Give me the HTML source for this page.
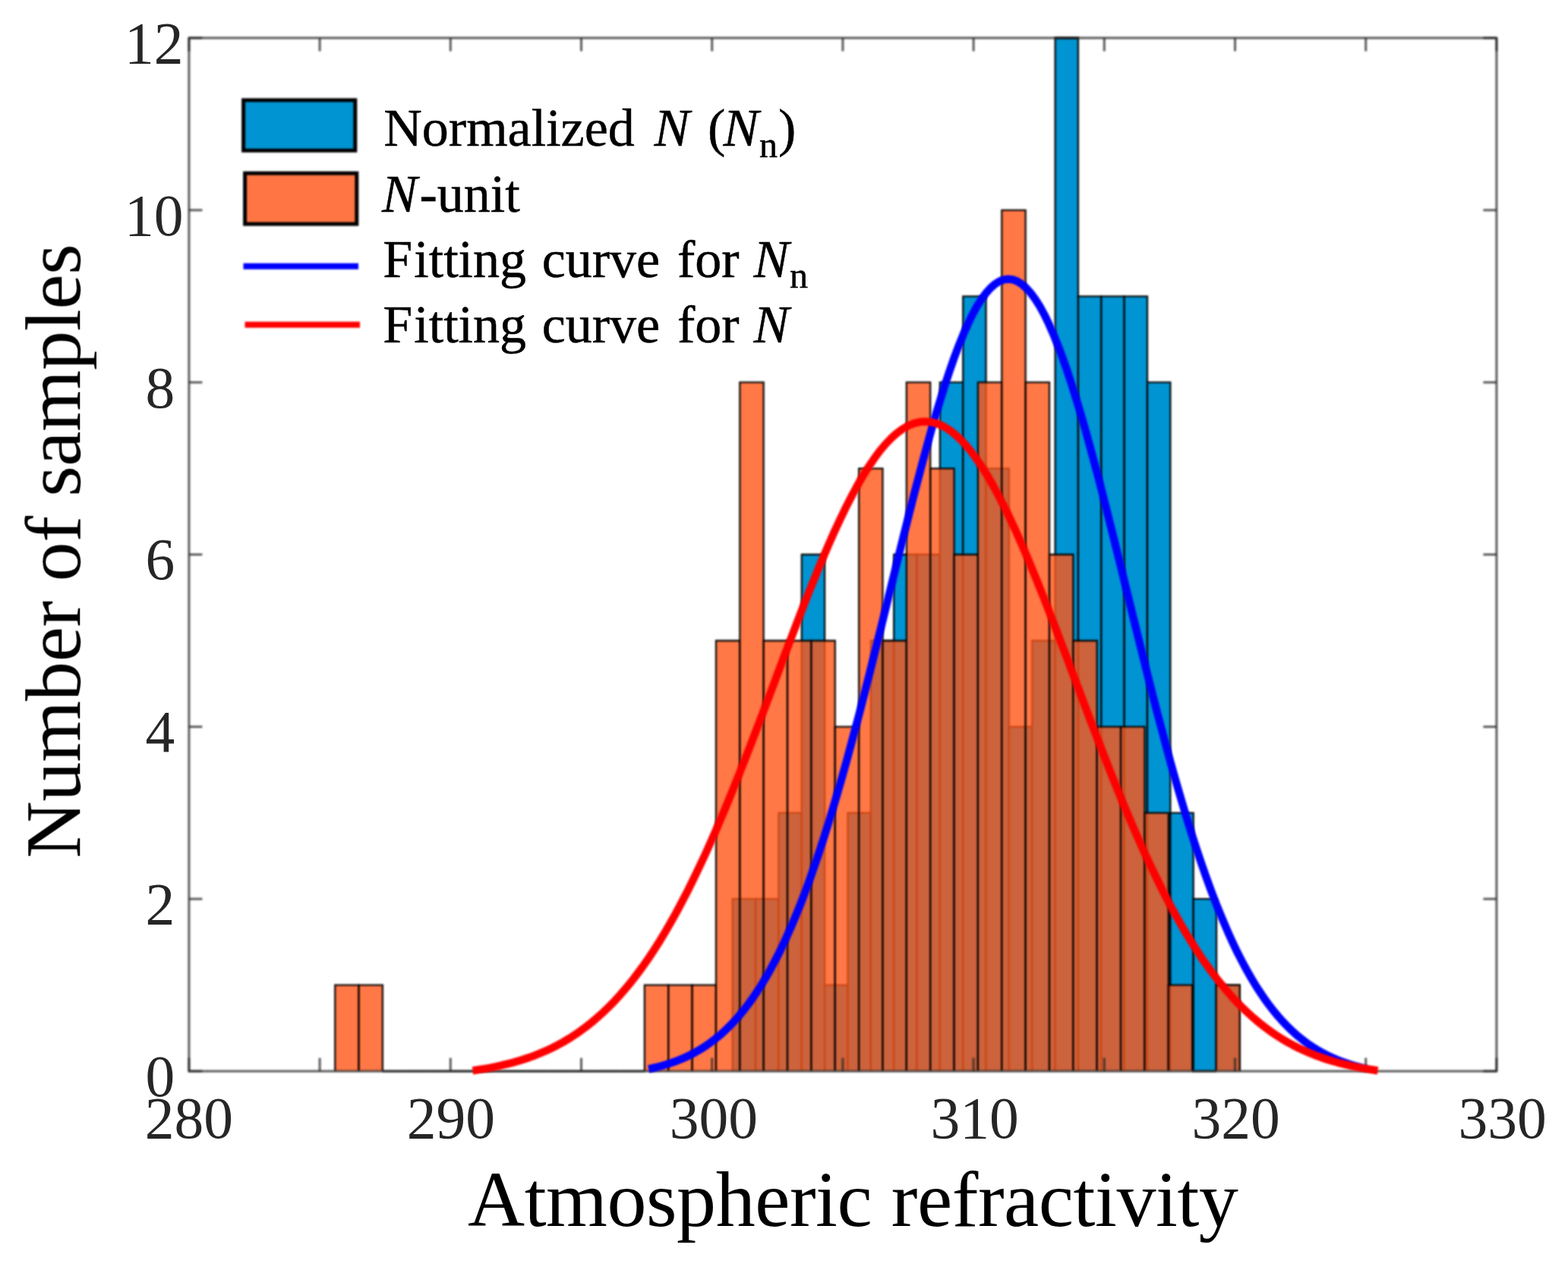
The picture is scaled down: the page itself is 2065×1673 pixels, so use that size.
<!DOCTYPE html>
<html lang="en"><head><meta charset="utf-8">
<title>Histogram of atmospheric refractivity</title>
<style>
html,body{margin:0;padding:0;background:#fff;}
body{width:2065px;height:1673px;overflow:hidden;}
svg{display:block;}
text{font-family:"Liberation Serif","Times New Roman",Times,serif;}
.tk{font-size:77.5px;fill:#262626;}
.lg{font-size:70px;fill:#000;stroke:#000;stroke-width:0.5px;}
.al{font-size:104px;fill:#000;}
.it{font-style:italic;}
.sub{font-size:48px;font-style:normal;}
</style></head><body>
<svg width="2065" height="1673" viewBox="0 0 2065 1673">
<rect width="2065" height="1673" fill="#fff"/>
<defs><filter id="soft" x="-2%" y="-2%" width="104%" height="104%" color-interpolation-filters="sRGB"><feGaussianBlur stdDeviation="0.8"/></filter><filter id="soft2" x="-2%" y="-2%" width="104%" height="104%" color-interpolation-filters="sRGB"><feGaussianBlur stdDeviation="1.0"/></filter><filter id="soft3" x="-2%" y="-2%" width="104%" height="104%" color-interpolation-filters="sRGB"><feGaussianBlur stdDeviation="0.55"/></filter></defs>
<g filter="url(#soft)">
<rect x="-20" y="-20" width="2105" height="1713" fill="#fff"/>
<!-- histogram: Normalized N (blue), N-unit (orange, 80% opaque) -->
<g fill="#0094d2" stroke="#000" stroke-opacity="0.92" stroke-width="2.3" stroke-linejoin="miter">
<path d="M964.70,1411.1 V1184.2 H995.05 V1411.1"/>
<path d="M995.05,1411.1 V1184.2 H1025.40 V1411.1"/>
<path d="M1025.40,1411.1 V1070.8 H1055.75 V1411.1"/>
<path d="M1055.75,1411.1 V730.5 H1086.10 V1411.1"/>
<path d="M1086.10,1411.1 V1297.7 H1116.45 V1411.1"/>
<path d="M1116.45,1411.1 V1070.8 H1146.80 V1411.1"/>
<path d="M1146.80,1411.1 V844.0 H1177.15 V1411.1"/>
<path d="M1177.15,1411.1 V730.5 H1207.50 V1411.1"/>
<path d="M1207.50,1411.1 V730.5 H1237.85 V1411.1"/>
<path d="M1237.85,1411.1 V503.7 H1268.20 V1411.1"/>
<path d="M1268.20,1411.1 V390.3 H1298.55 V1411.1"/>
<path d="M1298.55,1411.1 V617.1 H1328.90 V1411.1"/>
<path d="M1328.90,1411.1 V957.4 H1359.25 V1411.1"/>
<path d="M1359.25,1411.1 V844.0 H1389.60 V1411.1"/>
<path d="M1389.60,1411.1 V50.0 H1419.95 V1411.1"/>
<path d="M1419.95,1411.1 V390.3 H1450.30 V1411.1"/>
<path d="M1450.30,1411.1 V390.3 H1480.65 V1411.1"/>
<path d="M1480.65,1411.1 V390.3 H1511.00 V1411.1"/>
<path d="M1511.00,1411.1 V503.7 H1541.35 V1411.1"/>
<path d="M1541.35,1411.1 V1070.8 H1571.70 V1411.1"/>
<path d="M1571.70,1411.1 V1184.2 H1602.05 V1411.1"/>
<path d="M1602.05,1411.1 V1297.7 H1632.40 V1411.1"/>
</g>
<g fill="rgb(255,86,24)" fill-opacity="0.8" stroke="#000" stroke-opacity="0.92" stroke-width="2.3" stroke-linejoin="miter">
<path d="M441.20,1411.1 V1297.7 H472.56 V1411.1"/>
<path d="M472.56,1411.1 V1297.7 H503.92 V1411.1"/>
<line x1="503.92" y1="1411.1" x2="535.28" y2="1411.1" stroke-opacity="0.6"/>
<line x1="535.28" y1="1411.1" x2="566.64" y2="1411.1" stroke-opacity="0.6"/>
<line x1="566.64" y1="1411.1" x2="598.00" y2="1411.1" stroke-opacity="0.6"/>
<line x1="598.00" y1="1411.1" x2="629.36" y2="1411.1" stroke-opacity="0.6"/>
<line x1="629.36" y1="1411.1" x2="660.72" y2="1411.1" stroke-opacity="0.6"/>
<line x1="660.72" y1="1411.1" x2="692.08" y2="1411.1" stroke-opacity="0.6"/>
<line x1="692.08" y1="1411.1" x2="723.44" y2="1411.1" stroke-opacity="0.6"/>
<line x1="723.44" y1="1411.1" x2="754.80" y2="1411.1" stroke-opacity="0.6"/>
<line x1="754.80" y1="1411.1" x2="786.16" y2="1411.1" stroke-opacity="0.6"/>
<line x1="786.16" y1="1411.1" x2="817.52" y2="1411.1" stroke-opacity="0.6"/>
<line x1="817.52" y1="1411.1" x2="848.88" y2="1411.1" stroke-opacity="0.6"/>
<path d="M848.88,1411.1 V1297.7 H880.24 V1411.1"/>
<path d="M880.24,1411.1 V1297.7 H911.60 V1411.1"/>
<path d="M911.60,1411.1 V1297.7 H942.96 V1411.1"/>
<path d="M942.96,1411.1 V844.0 H974.32 V1411.1"/>
<path d="M974.32,1411.1 V503.7 H1005.68 V1411.1"/>
<path d="M1005.68,1411.1 V844.0 H1037.04 V1411.1"/>
<path d="M1037.04,1411.1 V844.0 H1068.40 V1411.1"/>
<path d="M1068.40,1411.1 V844.0 H1099.76 V1411.1"/>
<path d="M1099.76,1411.1 V957.4 H1131.12 V1411.1"/>
<path d="M1131.12,1411.1 V617.1 H1162.48 V1411.1"/>
<path d="M1162.48,1411.1 V844.0 H1193.84 V1411.1"/>
<path d="M1193.84,1411.1 V503.7 H1225.20 V1411.1"/>
<path d="M1225.20,1411.1 V617.1 H1256.56 V1411.1"/>
<path d="M1256.56,1411.1 V730.5 H1287.92 V1411.1"/>
<path d="M1287.92,1411.1 V503.7 H1319.28 V1411.1"/>
<path d="M1319.28,1411.1 V276.8 H1350.64 V1411.1"/>
<path d="M1350.64,1411.1 V503.7 H1382.00 V1411.1"/>
<path d="M1382.00,1411.1 V730.5 H1413.36 V1411.1"/>
<path d="M1413.36,1411.1 V844.0 H1444.72 V1411.1"/>
<path d="M1444.72,1411.1 V957.4 H1476.08 V1411.1"/>
<path d="M1476.08,1411.1 V957.4 H1507.44 V1411.1"/>
<path d="M1507.44,1411.1 V1070.8 H1538.80 V1411.1"/>
<path d="M1538.80,1411.1 V1297.7 H1570.16 V1411.1"/>
<line x1="1570.16" y1="1411.1" x2="1601.52" y2="1411.1" stroke-opacity="0.6"/>
<path d="M1601.52,1411.1 V1297.7 H1632.88 V1411.1"/>
</g>
</g>
<!-- axes box and ticks -->
<g filter="url(#soft2)" stroke="#262626" stroke-opacity="0.72" stroke-width="3.1" fill="none" stroke-linecap="butt">
<rect x="248.9" y="50.0" width="1722.0" height="1361.1"/>
<line x1="248.9" y1="1411.1" x2="248.9" y2="1393.6"/>
<line x1="248.9" y1="50.0" x2="248.9" y2="67.5"/>
<line x1="421.1" y1="1411.1" x2="421.1" y2="1393.6"/>
<line x1="421.1" y1="50.0" x2="421.1" y2="67.5"/>
<line x1="593.3" y1="1411.1" x2="593.3" y2="1393.6"/>
<line x1="593.3" y1="50.0" x2="593.3" y2="67.5"/>
<line x1="765.5" y1="1411.1" x2="765.5" y2="1393.6"/>
<line x1="765.5" y1="50.0" x2="765.5" y2="67.5"/>
<line x1="937.7" y1="1411.1" x2="937.7" y2="1393.6"/>
<line x1="937.7" y1="50.0" x2="937.7" y2="67.5"/>
<line x1="1109.9" y1="1411.1" x2="1109.9" y2="1393.6"/>
<line x1="1109.9" y1="50.0" x2="1109.9" y2="67.5"/>
<line x1="1282.1" y1="1411.1" x2="1282.1" y2="1393.6"/>
<line x1="1282.1" y1="50.0" x2="1282.1" y2="67.5"/>
<line x1="1454.3" y1="1411.1" x2="1454.3" y2="1393.6"/>
<line x1="1454.3" y1="50.0" x2="1454.3" y2="67.5"/>
<line x1="1626.5" y1="1411.1" x2="1626.5" y2="1393.6"/>
<line x1="1626.5" y1="50.0" x2="1626.5" y2="67.5"/>
<line x1="1798.7" y1="1411.1" x2="1798.7" y2="1393.6"/>
<line x1="1798.7" y1="50.0" x2="1798.7" y2="67.5"/>
<line x1="1970.9" y1="1411.1" x2="1970.9" y2="1393.6"/>
<line x1="1970.9" y1="50.0" x2="1970.9" y2="67.5"/>
<line x1="248.9" y1="1411.1" x2="266.4" y2="1411.1"/>
<line x1="1970.9" y1="1411.1" x2="1953.4" y2="1411.1"/>
<line x1="248.9" y1="1184.2" x2="266.4" y2="1184.2"/>
<line x1="1970.9" y1="1184.2" x2="1953.4" y2="1184.2"/>
<line x1="248.9" y1="957.4" x2="266.4" y2="957.4"/>
<line x1="1970.9" y1="957.4" x2="1953.4" y2="957.4"/>
<line x1="248.9" y1="730.5" x2="266.4" y2="730.5"/>
<line x1="1970.9" y1="730.5" x2="1953.4" y2="730.5"/>
<line x1="248.9" y1="503.7" x2="266.4" y2="503.7"/>
<line x1="1970.9" y1="503.7" x2="1953.4" y2="503.7"/>
<line x1="248.9" y1="276.8" x2="266.4" y2="276.8"/>
<line x1="1970.9" y1="276.8" x2="1953.4" y2="276.8"/>
<line x1="248.9" y1="50.0" x2="266.4" y2="50.0"/>
<line x1="1970.9" y1="50.0" x2="1953.4" y2="50.0"/>
</g>
<g filter="url(#soft)">
<!-- fitted curves -->
<path d="M854.2,1408.2 L860.1,1406.9 L866.0,1405.5 L872.0,1403.9 L877.9,1402.1 L883.8,1400.2 L889.7,1398.1 L895.7,1395.8 L901.6,1393.2 L907.5,1390.5 L913.4,1387.4 L919.3,1384.1 L925.3,1380.5 L931.2,1376.6 L937.1,1372.4 L943.0,1367.8 L949.0,1362.9 L954.9,1357.5 L960.8,1351.8 L966.7,1345.6 L972.7,1338.9 L978.6,1331.8 L984.5,1324.2 L990.4,1316.1 L996.3,1307.4 L1002.3,1298.2 L1008.2,1288.4 L1014.1,1278.0 L1020.0,1267.0 L1026.0,1255.4 L1031.9,1243.1 L1037.8,1230.2 L1043.7,1216.6 L1049.6,1202.4 L1055.6,1187.5 L1061.5,1172.0 L1067.4,1155.7 L1073.3,1138.8 L1079.3,1121.2 L1085.2,1103.0 L1091.1,1084.2 L1097.0,1064.7 L1102.9,1044.7 L1108.9,1024.0 L1114.8,1002.9 L1120.7,981.2 L1126.6,959.0 L1132.6,936.5 L1138.5,913.5 L1144.4,890.2 L1150.3,866.6 L1156.2,842.8 L1162.2,818.8 L1168.1,794.8 L1174.0,770.7 L1179.9,746.6 L1185.9,722.6 L1191.8,698.8 L1197.7,675.2 L1203.6,652.0 L1209.6,629.2 L1215.5,606.8 L1221.4,585.1 L1227.3,563.9 L1233.2,543.5 L1239.2,523.9 L1245.1,505.1 L1251.0,487.3 L1256.9,470.5 L1262.9,454.7 L1268.8,440.2 L1274.7,426.8 L1280.6,414.6 L1286.5,403.8 L1292.5,394.3 L1298.4,386.2 L1304.3,379.6 L1310.2,374.3 L1316.2,370.6 L1322.1,368.3 L1328.0,367.6 L1333.9,368.3 L1339.8,370.6 L1345.8,374.3 L1351.7,379.6 L1357.6,386.2 L1363.5,394.3 L1369.5,403.8 L1375.4,414.6 L1381.3,426.8 L1387.2,440.2 L1393.1,454.7 L1399.1,470.5 L1405.0,487.3 L1410.9,505.1 L1416.8,523.9 L1422.8,543.5 L1428.7,563.9 L1434.6,585.1 L1440.5,606.8 L1446.5,629.2 L1452.4,652.0 L1458.3,675.2 L1464.2,698.8 L1470.1,722.6 L1476.1,746.6 L1482.0,770.7 L1487.9,794.8 L1493.8,818.8 L1499.8,842.8 L1505.7,866.6 L1511.6,890.2 L1517.5,913.5 L1523.4,936.5 L1529.4,959.0 L1535.3,981.2 L1541.2,1002.9 L1547.1,1024.0 L1553.1,1044.7 L1559.0,1064.7 L1564.9,1084.2 L1570.8,1103.0 L1576.7,1121.2 L1582.7,1138.8 L1588.6,1155.7 L1594.5,1172.0 L1600.4,1187.5 L1606.4,1202.4 L1612.3,1216.6 L1618.2,1230.2 L1624.1,1243.1 L1630.0,1255.4 L1636.0,1267.0 L1641.9,1278.0 L1647.8,1288.4 L1653.7,1298.2 L1659.7,1307.4 L1665.6,1316.1 L1671.5,1324.2 L1677.4,1331.8 L1683.3,1338.9 L1689.3,1345.6 L1695.2,1351.8 L1701.1,1357.5 L1707.0,1362.9 L1713.0,1367.8 L1718.9,1372.4 L1724.8,1376.6 L1730.7,1380.5 L1736.7,1384.1 L1742.6,1387.4 L1748.5,1390.5 L1754.4,1393.2 L1760.3,1395.8 L1766.3,1398.1 L1772.2,1400.2 L1778.1,1402.1 L1784.0,1403.9 L1790.0,1405.5 L1795.9,1406.9 L1801.8,1408.2" fill="none" stroke="#0000ff" stroke-width="10.3" stroke-linecap="butt" stroke-linejoin="round"/>
<path d="M622.5,1410.3 L630.0,1409.2 L637.4,1408.0 L644.9,1406.7 L652.3,1405.2 L659.8,1403.6 L667.2,1401.8 L674.6,1399.9 L682.1,1397.8 L689.5,1395.5 L697.0,1393.0 L704.5,1390.3 L711.9,1387.3 L719.4,1384.1 L726.8,1380.6 L734.2,1376.8 L741.7,1372.7 L749.1,1368.3 L756.6,1363.5 L764.0,1358.4 L771.5,1352.9 L779.0,1347.0 L786.4,1340.7 L793.9,1334.0 L801.3,1326.9 L808.8,1319.3 L816.2,1311.2 L823.6,1302.6 L831.1,1293.6 L838.5,1284.0 L846.0,1273.9 L853.5,1263.3 L860.9,1252.1 L868.4,1240.4 L875.8,1228.1 L883.2,1215.3 L890.7,1202.0 L898.1,1188.0 L905.6,1173.6 L913.0,1158.6 L920.5,1143.1 L928.0,1127.1 L935.4,1110.7 L942.9,1093.7 L950.3,1076.3 L957.8,1058.5 L965.2,1040.3 L972.6,1021.8 L980.1,1002.9 L987.5,983.8 L995.0,964.4 L1002.5,944.9 L1009.9,925.2 L1017.4,905.5 L1024.8,885.7 L1032.2,865.9 L1039.7,846.3 L1047.2,826.7 L1054.6,807.4 L1062.0,788.4 L1069.5,769.7 L1077.0,751.3 L1084.4,733.5 L1091.8,716.2 L1099.3,699.4 L1106.8,683.3 L1114.2,668.0 L1121.7,653.4 L1129.1,639.6 L1136.5,626.7 L1144.0,614.8 L1151.5,603.8 L1158.9,593.8 L1166.3,585.0 L1173.8,577.2 L1181.2,570.6 L1188.7,565.1 L1196.2,560.8 L1203.6,557.8 L1211.0,555.9 L1218.5,555.3 L1226.0,555.9 L1233.4,557.8 L1240.8,560.8 L1248.3,565.1 L1255.8,570.6 L1263.2,577.2 L1270.7,585.0 L1278.1,593.8 L1285.5,603.8 L1293.0,614.8 L1300.5,626.7 L1307.9,639.6 L1315.3,653.4 L1322.8,668.0 L1330.2,683.3 L1337.7,699.4 L1345.2,716.2 L1352.6,733.5 L1360.0,751.3 L1367.5,769.7 L1375.0,788.4 L1382.4,807.4 L1389.8,826.7 L1397.3,846.3 L1404.8,865.9 L1412.2,885.7 L1419.7,905.5 L1427.1,925.2 L1434.5,944.9 L1442.0,964.4 L1449.5,983.8 L1456.9,1002.9 L1464.3,1021.8 L1471.8,1040.3 L1479.2,1058.5 L1486.7,1076.3 L1494.2,1093.7 L1501.6,1110.7 L1509.0,1127.1 L1516.5,1143.1 L1524.0,1158.6 L1531.4,1173.6 L1538.8,1188.0 L1546.3,1202.0 L1553.8,1215.3 L1561.2,1228.1 L1568.7,1240.4 L1576.1,1252.1 L1583.5,1263.3 L1591.0,1273.9 L1598.5,1284.0 L1605.9,1293.6 L1613.3,1302.6 L1620.8,1311.2 L1628.2,1319.3 L1635.7,1326.9 L1643.2,1334.0 L1650.6,1340.7 L1658.0,1347.0 L1665.5,1352.9 L1673.0,1358.4 L1680.4,1363.5 L1687.8,1368.3 L1695.3,1372.7 L1702.8,1376.8 L1710.2,1380.6 L1717.7,1384.1 L1725.1,1387.3 L1732.5,1390.3 L1740.0,1393.0 L1747.5,1395.5 L1754.9,1397.8 L1762.3,1399.9 L1769.8,1401.8 L1777.2,1403.6 L1784.7,1405.2 L1792.2,1406.7 L1799.6,1408.0 L1807.0,1409.2 L1814.5,1410.3" fill="none" stroke="#ff0000" stroke-width="10.3" stroke-linecap="butt" stroke-linejoin="round"/>
<!-- legend -->
<rect x="320.6" y="131.9" width="147.2" height="66.4" fill="#0094d2" stroke="#000" stroke-width="5"/>
<rect x="322.6" y="228.2" width="147.2" height="66.9" fill="#ff7644" stroke="#000" stroke-width="5"/>
<line x1="320.5" y1="350.8" x2="472" y2="350.8" stroke="#0000ff" stroke-width="8"/>
<line x1="322.5" y1="427.7" x2="474" y2="427.7" stroke="#ff0000" stroke-width="8"/>
</g>
<g filter="url(#soft3)">
<text class="lg" y="192.3"><tspan x="505.3">Normalized</tspan> <tspan class="it" x="861.5">N</tspan> <tspan x="932">(</tspan><tspan class="it" x="952.5">N</tspan><tspan class="sub" x="1000" dy="14.5">n</tspan><tspan x="1025" dy="-14.5">)</tspan></text>
<text class="lg" y="278.5"><tspan class="it" x="503">N</tspan><tspan x="552.5">-unit</tspan></text>
<text class="lg" y="364.7"><tspan x="504.2" dx="0 2.1">Fitting</tspan> <tspan x="713.7">curve</tspan> <tspan x="892">for</tspan> <tspan class="it" x="992.5">N</tspan><tspan class="sub" x="1040" dy="14.5">n</tspan></text>
<text class="lg" y="451.2"><tspan x="504.2" dx="0 2.1">Fitting</tspan> <tspan x="713.7">curve</tspan> <tspan x="892">for</tspan> <tspan class="it" x="992.5">N</tspan></text>
<!-- tick labels and axis titles -->
<text class="tk" x="191.5" y="1444.0">0</text>
<text class="tk" x="191.5" y="1217.2">2</text>
<text class="tk" x="191.5" y="990.3">4</text>
<text class="tk" x="191.5" y="763.4">6</text>
<text class="tk" x="191.5" y="536.6">8</text>
<text class="tk" x="164.0" y="309.7">10</text>
<text class="tk" x="164.0" y="82.9">12</text>
<text class="tk" x="190.7" y="1499.2">280</text>
<text class="tk" x="535.7" y="1499.2">290</text>
<text class="tk" x="881.8" y="1499.2">300</text>
<text class="tk" x="1225.6" y="1499.2">310</text>
<text class="tk" x="1569.4" y="1499.2">320</text>
<text class="tk" x="1920.5" y="1499.2">330</text>
<text class="al" x="616" y="1615.2" letter-spacing="-0.45">Atmospheric refractivity</text>
<text class="al" transform="translate(105.3,1130.5) rotate(-90)" x="0" y="0" letter-spacing="-0.33">Number of samples</text>
</g>
</svg>
</body></html>
